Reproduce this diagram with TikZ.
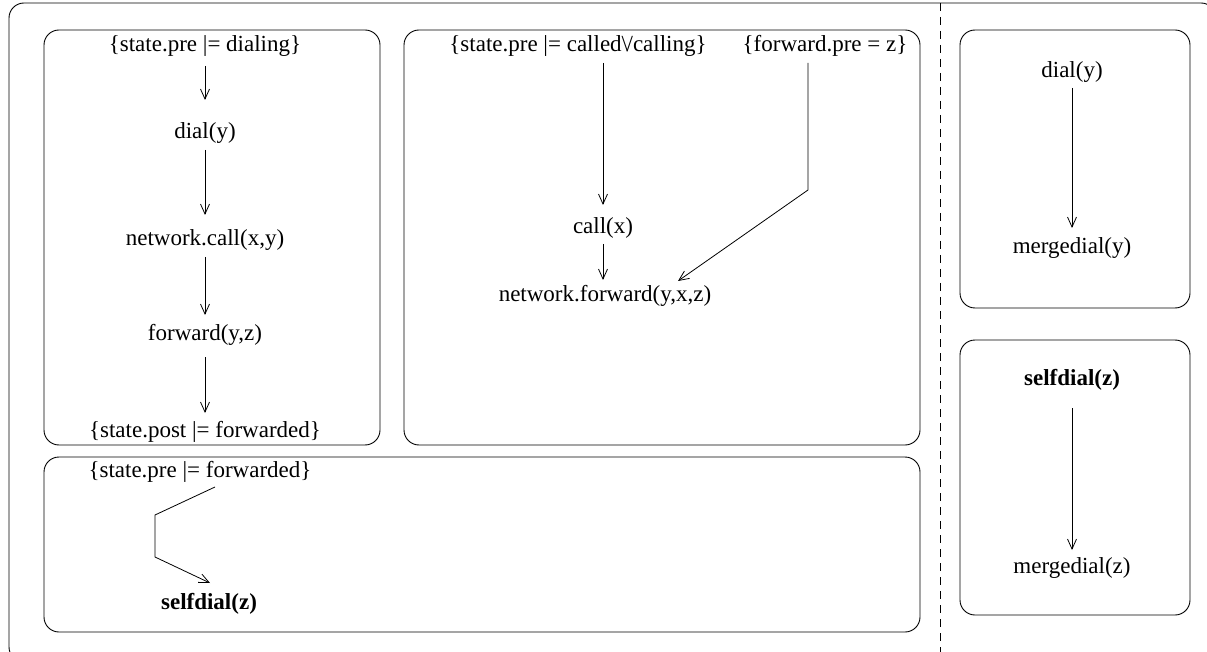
\documentclass[tikz,border=0pt]{standalone}
\usepackage{fontspec}
\setmainfont{Liberation Serif}
\usetikzlibrary{arrows.meta}
\begin{document}
\begin{tikzpicture}[x=1pt,y=-1pt,
  lbl/.style={inner sep=1pt,font=\fontsize{23}{26}\selectfont},
  blbl/.style={lbl,font=\fontsize{23}{26}\selectfont\bfseries},
  frame/.style={draw,line width=0.9pt,rounded corners=15pt},
  conn/.style={draw,line width=0.8pt,-{Straight Barb[length=10pt,width=9pt,line width=0.8pt]}}]
\useasboundingbox (0,0) rectangle (1207,652);
\begin{scope}
\clip (0,0) rectangle (1207,652);
\draw[frame] (9,3) rectangle (1216,662);
\end{scope}
\draw[line width=0.9pt,dash pattern=on 8pt off 6pt] (940,3) -- (940,652);
% boxes
\draw[frame] (44,30) rectangle (380,445);
\draw[frame] (404,30) rectangle (920,445);
\draw[frame] (44,457) rectangle (920,632);
\draw[frame] (960,30) rectangle (1190,308);
\draw[frame] (960,340) rectangle (1190,615);
% box A
\node[lbl] (a1) at (205,46) {\{state.pre |= dialing\}};
\node[lbl] (a2) at (205,133) {dial(y)};
\node[lbl] (a3) at (205,240) {network.call(x,y)};
\node[lbl] (a4) at (205,335) {forward(y,z)};
\node[lbl] (a5) at (205,432) {\{state.post |= forwarded\}};
\draw[conn] ([yshift=-20pt]a1.center) -- ([yshift=33pt]a2.center);
\draw[conn] ([yshift=-17pt]a2.center) -- ([yshift=25pt]a3.center);
\draw[conn] ([yshift=-17pt]a3.center) -- ([yshift=20pt]a4.center);
\draw[conn] ([yshift=-22pt]a4.center) -- ([yshift=19pt]a5.center);
% box B
\node[lbl] (b1) at (578,46) {\{state.pre |= called{\textbackslash}\kern-1.5pt/calling\}};
\node[lbl] (b2) at (825,46) {\{forward.pre = z\}};
\node[lbl] (b3) at (603,228) {call(x)};
\node[lbl] (b4) at (605,296) {network.forward(y,x,z)};
\coordinate (bk) at (808,190);
\draw[conn] ([shift={(25pt,-17pt)}]b1.center) -- ([yshift=23pt]b3.center);
\draw[conn] ([yshift=-16pt]b3.center) -- ([shift={(-2pt,16pt)}]b4.center);
\draw[conn] ([shift={(-17pt,-17pt)}]b2.center) -- (bk) -- ([shift={(73pt,15pt)}]b4.center);
% box C
\node[lbl] (c1) at (200,472) {\{state.pre |= forwarded\}};
\node[blbl] (c2) at (209,604) {selfdial(z)};
\coordinate (c3) at (155,515);
\coordinate (c4) at (155,557);
\draw[conn] ([shift={(15pt,-15pt)}]c1.center) -- (c3) -- (c4) -- ([shift={(1pt,21pt)}]c2.center);
% box D
\node[lbl] (d1) at (1072,72) {dial(y)};
\node[lbl] (d2) at (1072,248) {mergedial(y)};
\draw[conn] ([yshift=-16pt]d1.center) -- ([yshift=20pt]d2.center);
% box E
\node[blbl] (e1) at (1072,380) {selfdial(z)};
\node[lbl] (e2) at (1072,568) {mergedial(z)};
\draw[conn] ([yshift=-28pt]e1.center) -- ([yshift=18pt]e2.center);
\end{tikzpicture}
\end{document}
